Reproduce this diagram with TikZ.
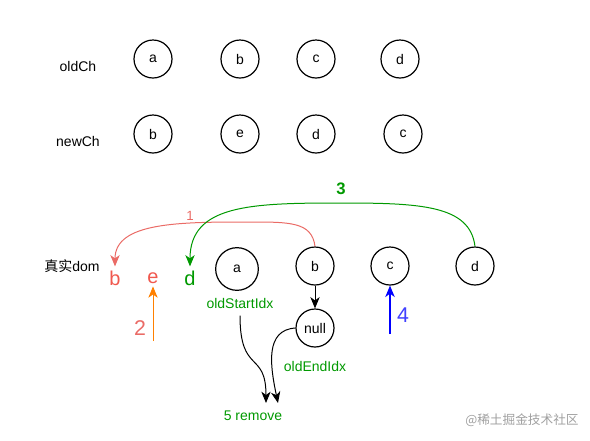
\documentclass[tikz,border=0pt]{standalone}
\usepackage{fontspec}
\setmainfont{Liberation Sans}
\newfontfamily\cjk{Noto Sans CJK SC}
\usetikzlibrary{arrows.meta}

\definecolor{redline}{HTML}{EA6B66}
\definecolor{redtxt}{HTML}{F0584E}
\definecolor{greenline}{HTML}{009900}
\definecolor{orangeline}{HTML}{FF8000}
\definecolor{markgray}{HTML}{A0A0A0}

\tikzset{
	vnode/.style={draw, circle, line width=0.9pt, minimum size=28.5pt, inner sep=0pt, font=\fontsize{10.5}{12}\selectfont},
	lbl/.style={font=\fontsize{10.5}{12}\selectfont},
	dom/.style={font=\fontsize{15}{16}\selectfont, inner sep=0pt},
	tip/.style={-{Stealth[length=8.5pt,width=7pt,inset=2.5pt]}, line width=0.75pt}
}

\begin{document}
\begin{tikzpicture}[x=0.75pt,y=-0.75pt]
	\useasboundingbox (0,0) rectangle (590,440);
	% old and new children
	\node [lbl] (oldch) at (78,66) {oldCh};
	\node [vnode] (o1) at (153,59) {a};
	\node [vnode] (o2) at (240,59) {b};
	\node [vnode] (o3) at (316,59) {c};
	\node [vnode] (o4) at (400,59) {d};
	\node [lbl] (newch) at (78,141) {newCh};
	\node [vnode] (n1) at (153,134) {b};
	\node [vnode] (n2) at (240,134) {e};
	\node [vnode] (n3) at (316,134) {d};
	\node [vnode] (n4) at (403,134) {c};
	% real dom
	\node [lbl] (real) at (72,266) {{\cjk 真实}dom};
	\node [dom, text=redtxt] (rb) at (115,278) {b};
	\node [dom, text=redtxt] (re) at (153,278) {e};
	\node [dom, text=greenline] (rd) at (190,278) {d};
	\node [vnode, minimum size=32pt] (da) at (237,269) {a};
	\node [vnode] (db) at (315,266) {b};
	\node [vnode] (dc) at (390,266) {c};
	\node [vnode] (dd) at (475,266) {d};
	\node [vnode] (nl) at (315,328) {null};
	\node [lbl, text=greenline] (si) at (240,303) {oldStartIdx};
	\node [lbl, text=greenline] (ei) at (315,366) {oldEndIdx};
	\node [lbl, text=greenline] (rm) at (253,416) {5 remove};
	\node [font=\fontsize{10}{12}\selectfont, text=redline] (s1) at (190,216) {1};
	\node [font=\bfseries\fontsize{12.5}{14}\selectfont, text=greenline] (s3) at (341,189) {3};
	\node [font=\fontsize{16}{18}\selectfont, text=redline] (s2) at (140,328) {2};
	\node [font=\fontsize{16}{18}\selectfont, text=blue!75!white] (s4) at (403,315) {4};
	\node [font=\cjk\fontsize{9.5}{11}\selectfont, text=markgray] (mark) at (522,420) {@稀土掘金技术社区};
	\coordinate (e2) at (153,341);
	\coordinate (e4) at (390,334);
	\coordinate (t1) at (266,403);
	\coordinate (t2) at (278,403);
	% moves
	\draw [tip, redline] (db.north) .. controls (312,222) and (290,222) .. (250,222) .. controls (180,222) and (115,222) .. ([yshift=3pt]rb.north);
	\draw [tip, greenline] (dd.north) .. controls (470,205) and (420,203) .. (340,203) .. controls (250,203) and (190,205) .. ([yshift=3pt]rd.north);
	\draw [tip, orangeline] (e2) -- ([yshift=-2pt]re.south);
	\draw [tip, blue, line width=1.5pt] (e4) -- (dc.south);
	\draw [tip] (db.south) -- (nl.north);
	\draw [tip] ([yshift=-2pt]si.south) .. controls (240,375) and (266,350) .. (t1);
	\draw [tip] (nl.west) .. controls (265,330) and (270,365) .. (t2);
\end{tikzpicture}
\end{document}
